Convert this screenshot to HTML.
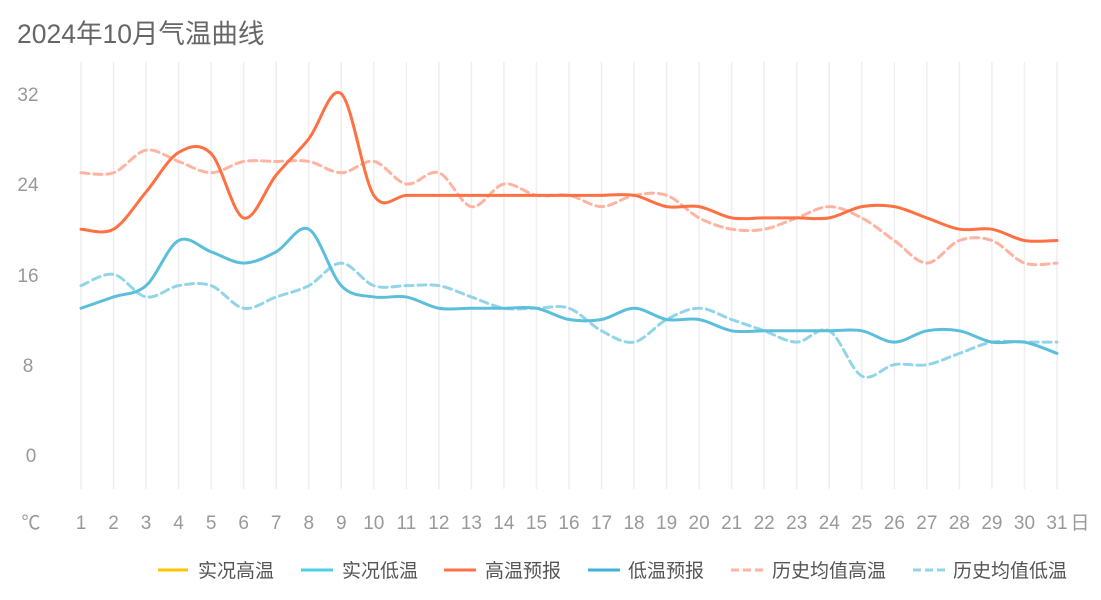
<!DOCTYPE html>
<html><head><meta charset="utf-8"><style>
html,body{margin:0;padding:0;background:#fff;}
svg{display:block;font-family:"Liberation Sans","Noto Sans CJK SC",sans-serif;}
</style></head><body>
<svg id="s" width="1101" height="600" xmlns="http://www.w3.org/2000/svg">
<text x="17" y="43" font-size="26.5" fill="#666">2024年10月气温曲线</text>
<g id="grid"></g>
<g font-size="19" fill="#999" text-anchor="middle">
<text x="28" y="101">32</text><text x="28" y="191">24</text><text x="28" y="282">16</text><text x="28" y="372">8</text><text x="31" y="462">0</text>
<text x="31" y="529">℃</text><text x="1080" y="529">日</text>
</g>
<g id="xl" font-size="19" fill="#999" text-anchor="middle"></g>
<g id="lines" fill="none" stroke-width="3" stroke-linecap="round"></g>
<g font-size="19" fill="#555">
<line x1="158" y1="570" x2="188" y2="570" stroke="#ffc400" stroke-width="3"/><text x="198" y="577">实况高温</text>
<line x1="301" y1="570" x2="333" y2="570" stroke="#4dd0e1" stroke-width="3"/><text x="342" y="577">实况低温</text>
<line x1="444" y1="570" x2="476" y2="570" stroke="#ff7043" stroke-width="3"/><text x="485" y="577">高温预报</text>
<line x1="588" y1="570" x2="620" y2="570" stroke="#3fb1d8" stroke-width="3"/><text x="628" y="577">低温预报</text>
<line x1="731" y1="570" x2="763" y2="570" stroke="#ffb3a0" stroke-width="3" stroke-dasharray="8,4"/><text x="772" y="577">历史均值高温</text>
<line x1="913" y1="570" x2="945" y2="570" stroke="#93d5e8" stroke-width="3" stroke-dasharray="8,4"/><text x="953" y="577">历史均值低温</text>
</g>
</svg>
<script>
var NS="http://www.w3.org/2000/svg";
function X(d){return 81+(d-1)*32.533;}
function Y(v){return 455-v*11.29;}
var g=document.getElementById('grid'),xl=document.getElementById('xl');
for(var d=1;d<=31;d++){var l=document.createElementNS(NS,'line');l.setAttribute('x1',X(d));l.setAttribute('x2',X(d));l.setAttribute('y1',62);l.setAttribute('y2',489);l.setAttribute('stroke','#eeeeee');l.setAttribute('stroke-width','1.5');g.appendChild(l);
var t=document.createElementNS(NS,'text');t.setAttribute('x',X(d));t.setAttribute('y',529);t.textContent=d;xl.appendChild(t);}
function path(v){var p=v.map(function(a,i){return [X(i+1),Y(a)];});var s='M'+p[0][0]+','+p[0][1];
for(var i=0;i<p.length-1;i++){var p0=p[i-1]||p[i],p1=p[i],p2=p[i+1],p3=p[i+2]||p2;var k=6;
s+=' C'+(p1[0]+(p2[0]-p0[0])/k)+','+(p1[1]+(p2[1]-p0[1])/k)+' '+(p2[0]-(p3[0]-p1[0])/k)+','+(p2[1]-(p3[1]-p1[1])/k)+' '+p2[0]+','+p2[1];}return s;}
var L=document.getElementById('lines');
function add(v,c,dash){var e=document.createElementNS(NS,'path');e.setAttribute('d',path(v));e.setAttribute('stroke',c);if(dash)e.setAttribute('stroke-dasharray','8,5');L.appendChild(e);}
add([25,25,27,26,25,26,26,26,25,26,24,25,22,24,23,23,22,23,23,21,20,20,21,22,21,19,17,19,19,17,17],'#ffb3a0',1);
add([15,16,14,15,15,13,14,15,17,15,15,15,14,13,13,13,11,10,12,13,12,11,10,11,7,8,8,9,10,10,10],'#93d5e8',1);
add([20,20,23.3,26.8,26.7,21,24.8,28,32,23,23,23,23,23,23,23,23,23,22,22,21,21,21,21,22,22,21,20,20,19,19],'#ff7043');
add([13,14,15,19,18,17,18,20,15,14,14,13,13,13,13,12,12,13,12,12,11,11,11,11,11,10,11,11,10,10,9],'#5bbfdc');
</script>
</body></html>
